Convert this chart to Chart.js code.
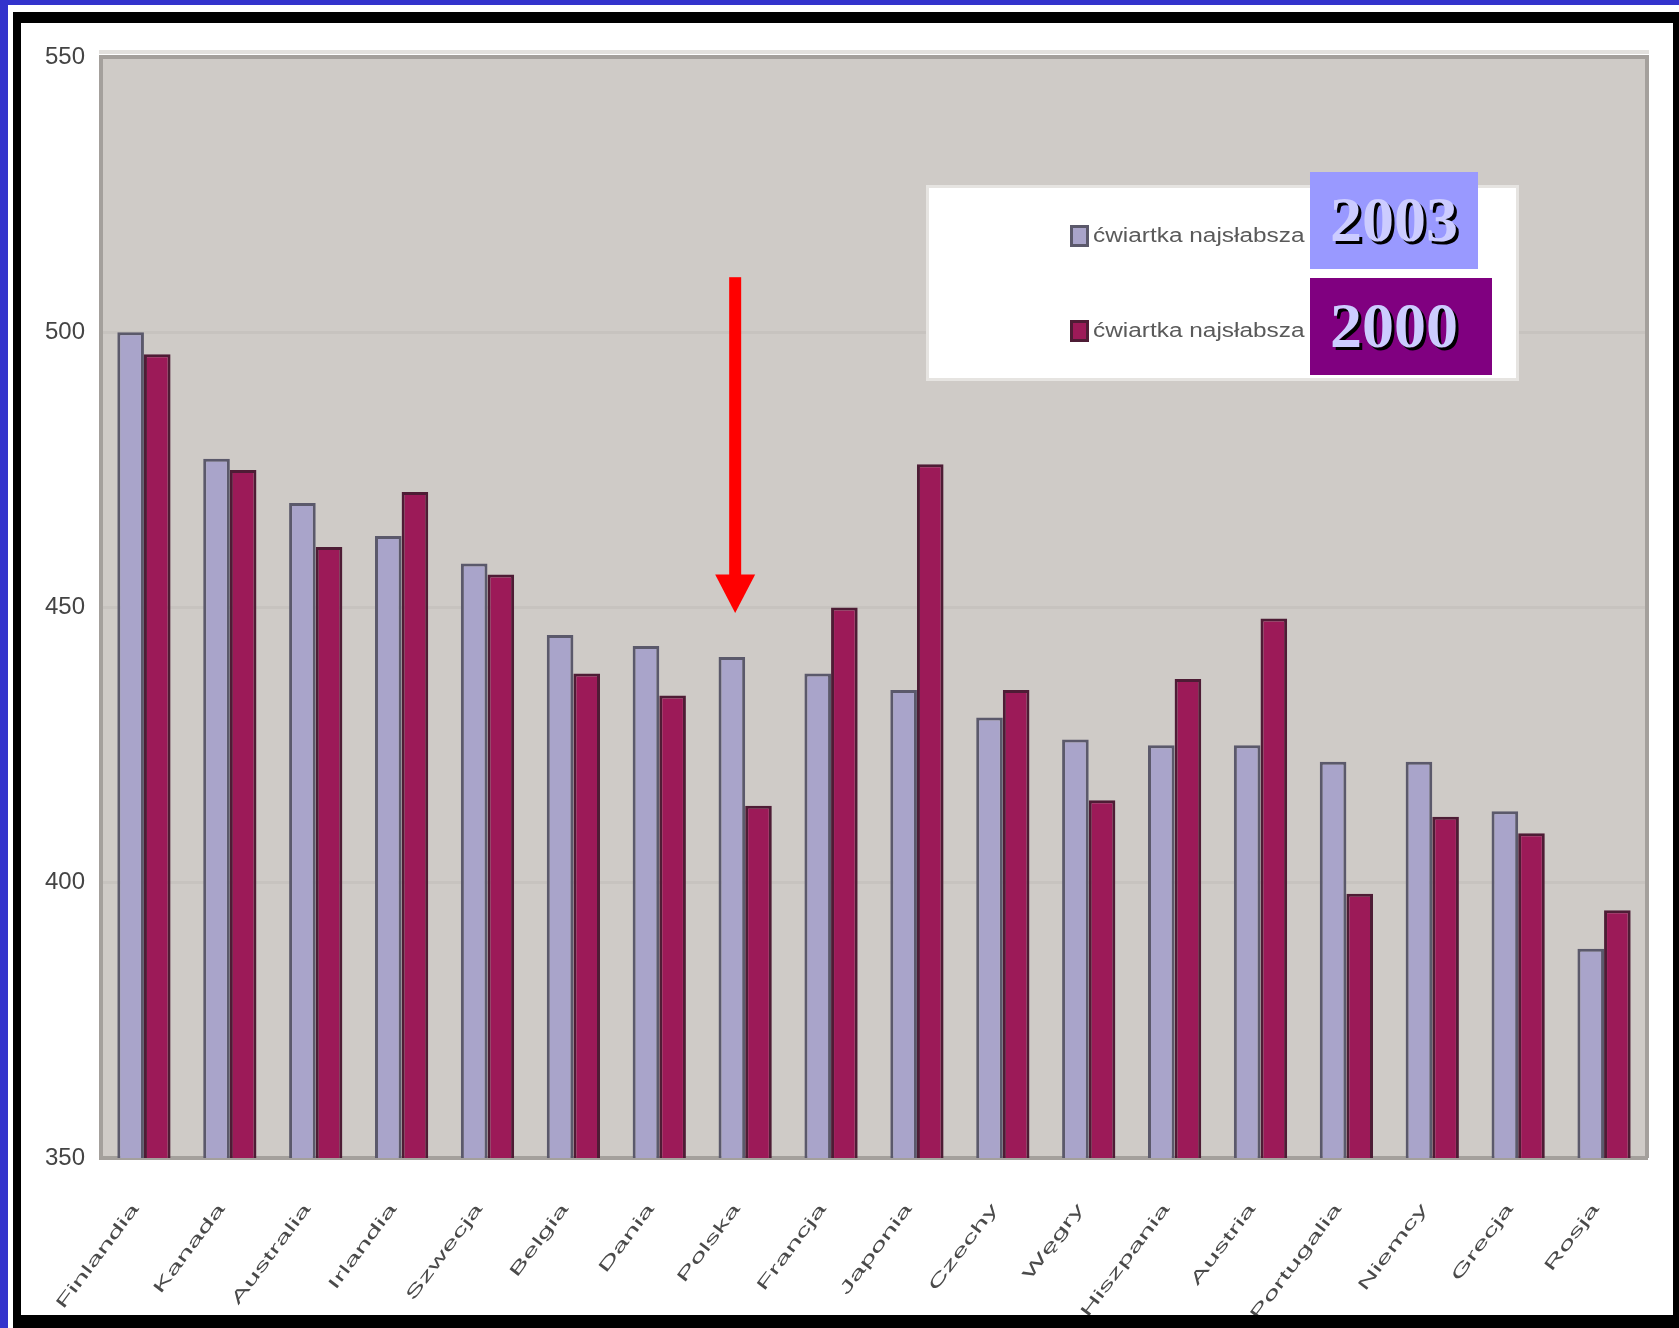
<!DOCTYPE html>
<html lang="pl">
<head>
<meta charset="utf-8">
<title>Ćwiartka najsłabsza – 2000 i 2003</title>
<script src="https://cdn.jsdelivr.net/npm/chart.js@4/dist/chart.umd.min.js"></script>
<style>
  html, body { margin: 0; padding: 0; background: #fff; }
  body { width: 1679px; height: 1328px; position: relative; overflow: hidden; }
  .frame {
    position: absolute; left: 0; top: 0; width: 1679px; height: 1328px;
    box-sizing: border-box;
    border-left: 8px solid #3333cc; border-top: 5px solid #3333cc;
  }
  .panel {
    position: absolute; left: 13px; top: 12px; width: 1666px; height: 1316px;
    box-sizing: border-box; background: #fff;
    border-left: 8px solid #000; border-top: 11px solid #000;
    border-right: 6px solid #000; border-bottom: 13px solid #000;
  }
  .chart-box { position: absolute; left: 0; top: 0; width: 1652px; height: 1292px; }
</style>
</head>
<body>
<div class="frame"></div>
<div class="panel">
  <div class="chart-box"><canvas id="chart"></canvas></div>
</div>
<script>
// Countries along the category axis
const categories = ['Finlandia', 'Kanada', 'Australia', 'Irlandia', 'Szwecja', 'Belgia', 'Dania',
  'Polska', 'Francja', 'Japonia', 'Czechy', 'Węgry', 'Hiszpania', 'Austria', 'Portugalia',
  'Niemcy', 'Grecja', 'Rosja'];

// Mean score of the weakest quarter of students
const scores2003 = [500, 477, 469, 463, 458, 445, 443, 441, 438, 435, 430, 426, 425, 425, 422, 422, 413, 388];
const scores2000 = [496, 475, 461, 471, 456, 438, 434, 414, 450, 476, 435, 415, 437, 448, 398, 412, 409, 395];

// Value axis
const yMin = 350;
const yMax = 550;
const yStep = 50;

// Legend entries and the year badges laid over them
const seriesNames = ['ćwiartka najsłabsza', 'ćwiartka najsłabsza'];
const yearBadges = ['2003', '2000'];

// Arrow pointing down at one country, in score units
const arrowCategory = 'Polska';
const arrowTop = 510;
const arrowNeck = 456;
const arrowTip = 449;

const COLORS = {
  plotBg: '#cfcbc7',
  plotEdge: '#a4a09c',
  grid: '#c7c3bf',
  fill2003: '#a9a4ca',
  edge2003: '#5b596b',
  fill2000: '#9c1a58',
  edge2000: '#4e1c35',
  badge2003: '#9999ff',
  badge2000: '#800080',
  badgeText: '#ccccff',
  arrow: '#ff0000',
  tickText: '#444444',
  catText: '#4a4a4a'
};

const decor = {
  id: 'decor',
  beforeDraw(chart) {
    const { ctx, chartArea: ca } = chart;
    ctx.save();
    ctx.fillStyle = COLORS.plotBg;
    ctx.fillRect(ca.left, ca.top, ca.right - ca.left, ca.bottom - ca.top);
    ctx.restore();
  },
  afterDraw(chart) {
    const { ctx, chartArea: ca } = chart;
    const xs = chart.scales.x;
    const ys = chart.scales.y;

    // top and right edges of the plot frame
    ctx.save();
    ctx.strokeStyle = '#e2e0dd';
    ctx.lineWidth = 4;
    ctx.beginPath();
    ctx.moveTo(ca.left - 2, ca.top - 5);
    ctx.lineTo(ca.right + 2, ca.top - 5);
    ctx.stroke();
    ctx.strokeStyle = COLORS.plotEdge;
    ctx.lineWidth = 4;
    ctx.beginPath();
    ctx.moveTo(ca.left, ca.top);
    ctx.lineTo(ca.right, ca.top);
    ctx.lineTo(ca.right, ca.bottom);
    ctx.stroke();
    ctx.restore();

    // slanted country names under the axis
    const angle = 53 * Math.PI / 180;
    ctx.save();
    ctx.font = '16px "Liberation Sans", Arial, sans-serif';
    ctx.fillStyle = COLORS.catText;
    ctx.textAlign = 'right';
    ctx.textBaseline = 'middle';
    categories.forEach((name, i) => {
      const x = xs.getPixelForTick(i) - 8;
      const y = xs.top + 48;
      ctx.save();
      ctx.translate(x, y);
      ctx.rotate(-angle);
      ctx.scale(1.95, 1);
      ctx.fillText(name, 0, 0);
      ctx.restore();
    });
    ctx.restore();

    // legend panel
    const lx = ca.left + 828;
    const ly = ca.top + 131;
    const lw = 587;
    const lh = 190;
    ctx.save();
    ctx.fillStyle = '#ffffff';
    ctx.fillRect(lx, ly, lw, lh);
    ctx.strokeStyle = '#e6e4e1';
    ctx.lineWidth = 3;
    ctx.strokeRect(lx - 1.5, ly - 1.5, lw + 3, lh + 3);

    const rows = [
      { fill: COLORS.fill2003, edge: COLORS.edge2003, y: ly + 37 },
      { fill: COLORS.fill2000, edge: COLORS.edge2000, y: ly + 132 }
    ];
    rows.forEach((r, i) => {
      ctx.fillStyle = r.edge;
      ctx.fillRect(lx + 141, r.y, 19, 22);
      ctx.fillStyle = r.fill;
      ctx.fillRect(lx + 144, r.y + 3, 13, 16);
      ctx.save();
      ctx.font = '20px "Liberation Sans", Arial, sans-serif';
      ctx.fillStyle = '#5a5a5a';
      ctx.textAlign = 'left';
      ctx.textBaseline = 'middle';
      ctx.translate(lx + 164, r.y + 11);
      ctx.scale(1.22, 1);
      ctx.fillText(seriesNames[i], 0, 0);
      ctx.restore();
    });

    // year badges
    const badges = [
      { x: lx + 381, y: ly - 16, w: 168, h: 97, bg: COLORS.badge2003 },
      { x: lx + 381, y: ly + 90, w: 182, h: 97, bg: COLORS.badge2000 }
    ];
    badges.forEach((b, i) => {
      ctx.fillStyle = b.bg;
      ctx.fillRect(b.x, b.y, b.w, b.h);
      ctx.save();
      ctx.font = 'bold 64px "Liberation Serif", "Times New Roman", serif';
      ctx.textAlign = 'center';
      ctx.textBaseline = 'middle';
      ctx.shadowColor = '#000000';
      ctx.shadowOffsetX = 3;
      ctx.shadowOffsetY = 3;
      ctx.shadowBlur = 0;
      ctx.fillStyle = COLORS.badgeText;
      ctx.fillText(yearBadges[i], lx + 465, b.y + b.h / 2 + 4);
      ctx.restore();
    });
    ctx.restore();

    // red arrow
    const ax = xs.getPixelForValue(categories.indexOf(arrowCategory)) - 10;
    const yTop = ys.getPixelForValue(arrowTop);
    const yNeck = ys.getPixelForValue(arrowNeck);
    const yTip = ys.getPixelForValue(arrowTip);
    ctx.save();
    ctx.fillStyle = COLORS.arrow;
    ctx.fillRect(ax - 6, yTop, 12, yNeck - yTop + 1);
    ctx.beginPath();
    ctx.moveTo(ax - 20, yNeck);
    ctx.lineTo(ax + 20, yNeck);
    ctx.lineTo(ax, yTip);
    ctx.closePath();
    ctx.fill();
    ctx.restore();
  }
};

new Chart(document.getElementById('chart'), {
  type: 'bar',
  data: {
    labels: categories,
    datasets: [
      {
        label: seriesNames[0] + ' ' + yearBadges[0],
        data: scores2003,
        backgroundColor: COLORS.fill2003,
        borderColor: COLORS.edge2003,
        borderWidth: 3,
        borderSkipped: 'bottom',
        categoryPercentage: 0.62,
        barPercentage: 1.0
      },
      {
        label: seriesNames[1] + ' ' + yearBadges[1],
        data: scores2000,
        backgroundColor: COLORS.fill2000,
        borderColor: COLORS.edge2000,
        borderWidth: 3,
        borderSkipped: 'bottom',
        categoryPercentage: 0.62,
        barPercentage: 1.0
      }
    ]
  },
  options: {
    responsive: true,
    maintainAspectRatio: false,
    animation: false,
    layout: { padding: { left: 0, top: 34, right: 26, bottom: 0 } },
    plugins: {
      legend: { display: false },
      tooltip: { enabled: false },
      title: { display: false }
    },
    scales: {
      x: {
        grid: { display: false, drawTicks: false },
        border: { display: true, color: COLORS.plotEdge, width: 4 },
        ticks: { display: false },
        afterFit(scale) { scale.height = 157; }
      },
      y: {
        min: yMin,
        max: yMax,
        grid: { color: COLORS.grid, lineWidth: 3, drawTicks: false },
        border: { display: true, color: COLORS.plotEdge, width: 4 },
        ticks: {
          stepSize: yStep,
          padding: 16,
          color: COLORS.tickText,
          font: { family: '"Liberation Sans", Arial, sans-serif', size: 24 }
        },
        afterFit(scale) { scale.width = 80; }
      }
    }
  },
  plugins: [decor]
});
</script>
</body>
</html>
